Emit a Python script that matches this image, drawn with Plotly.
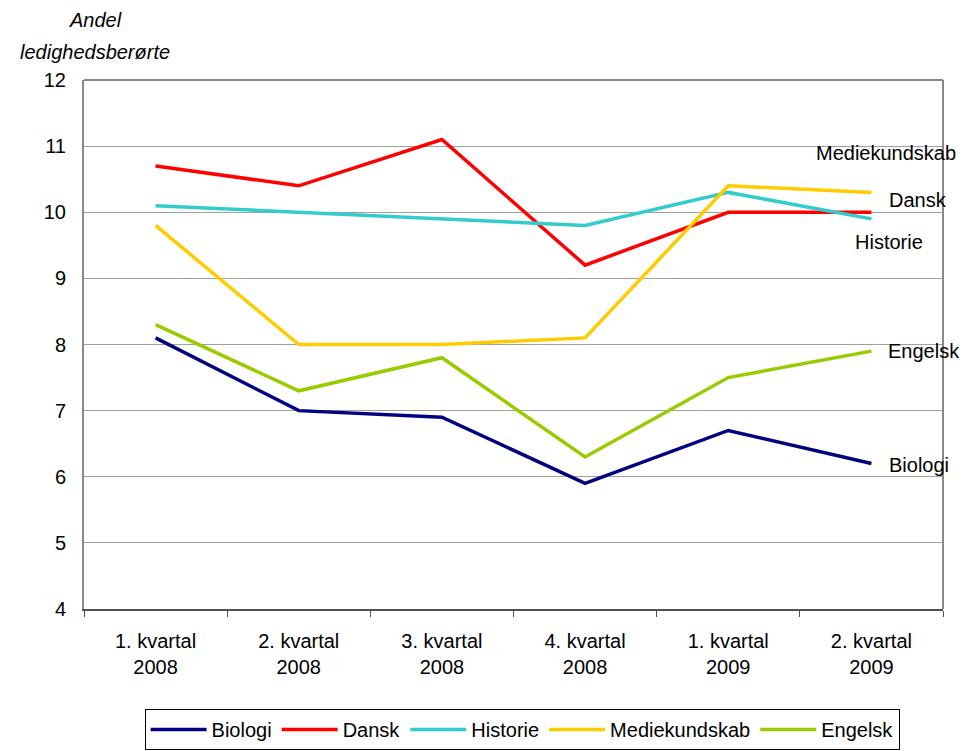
import plotly.graph_objects as go

categories = ["1. kvartal<br>2008", "2. kvartal<br>2008", "3. kvartal<br>2008",
              "4. kvartal<br>2008", "1. kvartal<br>2009", "2. kvartal<br>2009"]
biologi = [8.1, 7.0, 6.9, 5.9, 6.7, 6.2]
dansk = [10.7, 10.4, 11.1, 9.2, 10.0, 10.0]
historie = [10.1, 10.0, 9.9, 9.8, 10.3, 9.9]
mediekundskab = [9.8, 8.0, 8.0, 8.1, 10.4, 10.3]
engelsk = [8.3, 7.3, 7.8, 6.3, 7.5, 7.9]

series = [
    ("Biologi", biologi, "#000080"),
    ("Dansk", dansk, "#FF0000"),
    ("Historie", historie, "#33CCCC"),
    ("Mediekundskab", mediekundskab, "#FFCC00"),
    ("Engelsk", engelsk, "#99CC00"),
]

FONT = "Liberation Sans, Arial, sans-serif"
FS = 20
# page body has an 8px margin, so the figure is sized to fill the window from (8, 8)
W, H = 959, 743
L, R, T, B = 76, 24, 72, 142
PH = H - T - B

fig = go.Figure()
for name, vals, col in series:
    fig.add_trace(go.Scatter(x=categories, y=vals, mode="lines", name=name,
                             line=dict(color=col, width=3.5)))

# end labels: (text, y value, xshift, yshift, anchor)
labels = [
    ("Mediekundskab", mediekundskab[-1], 15, 39, "center"),
    ("Dansk", dansk[-1], 16, 12, "left"),
    ("Historie", historie[-1], 18, -23, "center"),
    ("Engelsk", engelsk[-1], 15, 0, "left"),
    ("Biologi", biologi[-1], 16, -1, "left"),
]
for text, yv, xs, ys, anc in labels:
    fig.add_annotation(x=categories[-1], y=yv, xref="x", yref="y", text=text,
                       showarrow=False, xanchor=anc, yanchor="middle",
                       xshift=xs, yshift=ys,
                       font=dict(family=FONT, size=FS, color="black"))

fig.add_annotation(text="<i>Andel</i>", xref="paper", yref="paper",
                   x=(95 - 84) / 859, y=1 + (80 - 20) / PH, xanchor="center", yanchor="middle",
                   showarrow=False, font=dict(family=FONT, size=FS, color="black"))
fig.add_annotation(text="<i>ledighedsberørte</i>", xref="paper", yref="paper",
                   x=(95 - 84) / 859, y=1 + (80 - 52) / PH, xanchor="center", yanchor="middle",
                   showarrow=False, font=dict(family=FONT, size=FS, color="black"))

fig.update_layout(
    width=W, height=H,
    margin=dict(l=L, r=R, t=T, b=B, autoexpand=False),
    paper_bgcolor="white", plot_bgcolor="white",
    font=dict(family=FONT, size=FS, color="black"),
    showlegend=True,
    legend=dict(orientation="h", x=0.51, xanchor="center",
                y=-(742 - (T + PH)) / PH, yanchor="bottom",
                bordercolor="black", borderwidth=1, font=dict(family=FONT, size=FS),
                itemwidth=56, tracegroupgap=0),
    xaxis=dict(type="category", range=[-0.5, 5.5], automargin=False,
               showgrid=False, showline=True, linecolor="#505050",
               linewidth=2, mirror=False, ticks="outside", tickson="boundaries",
               ticklen=6, tickcolor="#505050", tickfont=dict(size=FS),
               ticklabelstandoff=13),
    yaxis=dict(range=[4, 12], dtick=1, automargin=False, showgrid=True,
               gridcolor="#A0A0A0", gridwidth=1,
               showline=True, linecolor="#888888", linewidth=2, mirror=False,
               ticks="", tickfont=dict(size=FS), ticklabelstandoff=12,
               zeroline=False),
    shapes=[
        dict(type="line", xref="paper", yref="paper", x0=0, x1=1, y0=1, y1=1,
             line=dict(color="#888888", width=2)),
        dict(type="line", xref="paper", yref="paper", x0=1, x1=1, y0=0, y1=1,
             line=dict(color="#888888", width=2)),
    ],
)

fig.write_html("out.html")
